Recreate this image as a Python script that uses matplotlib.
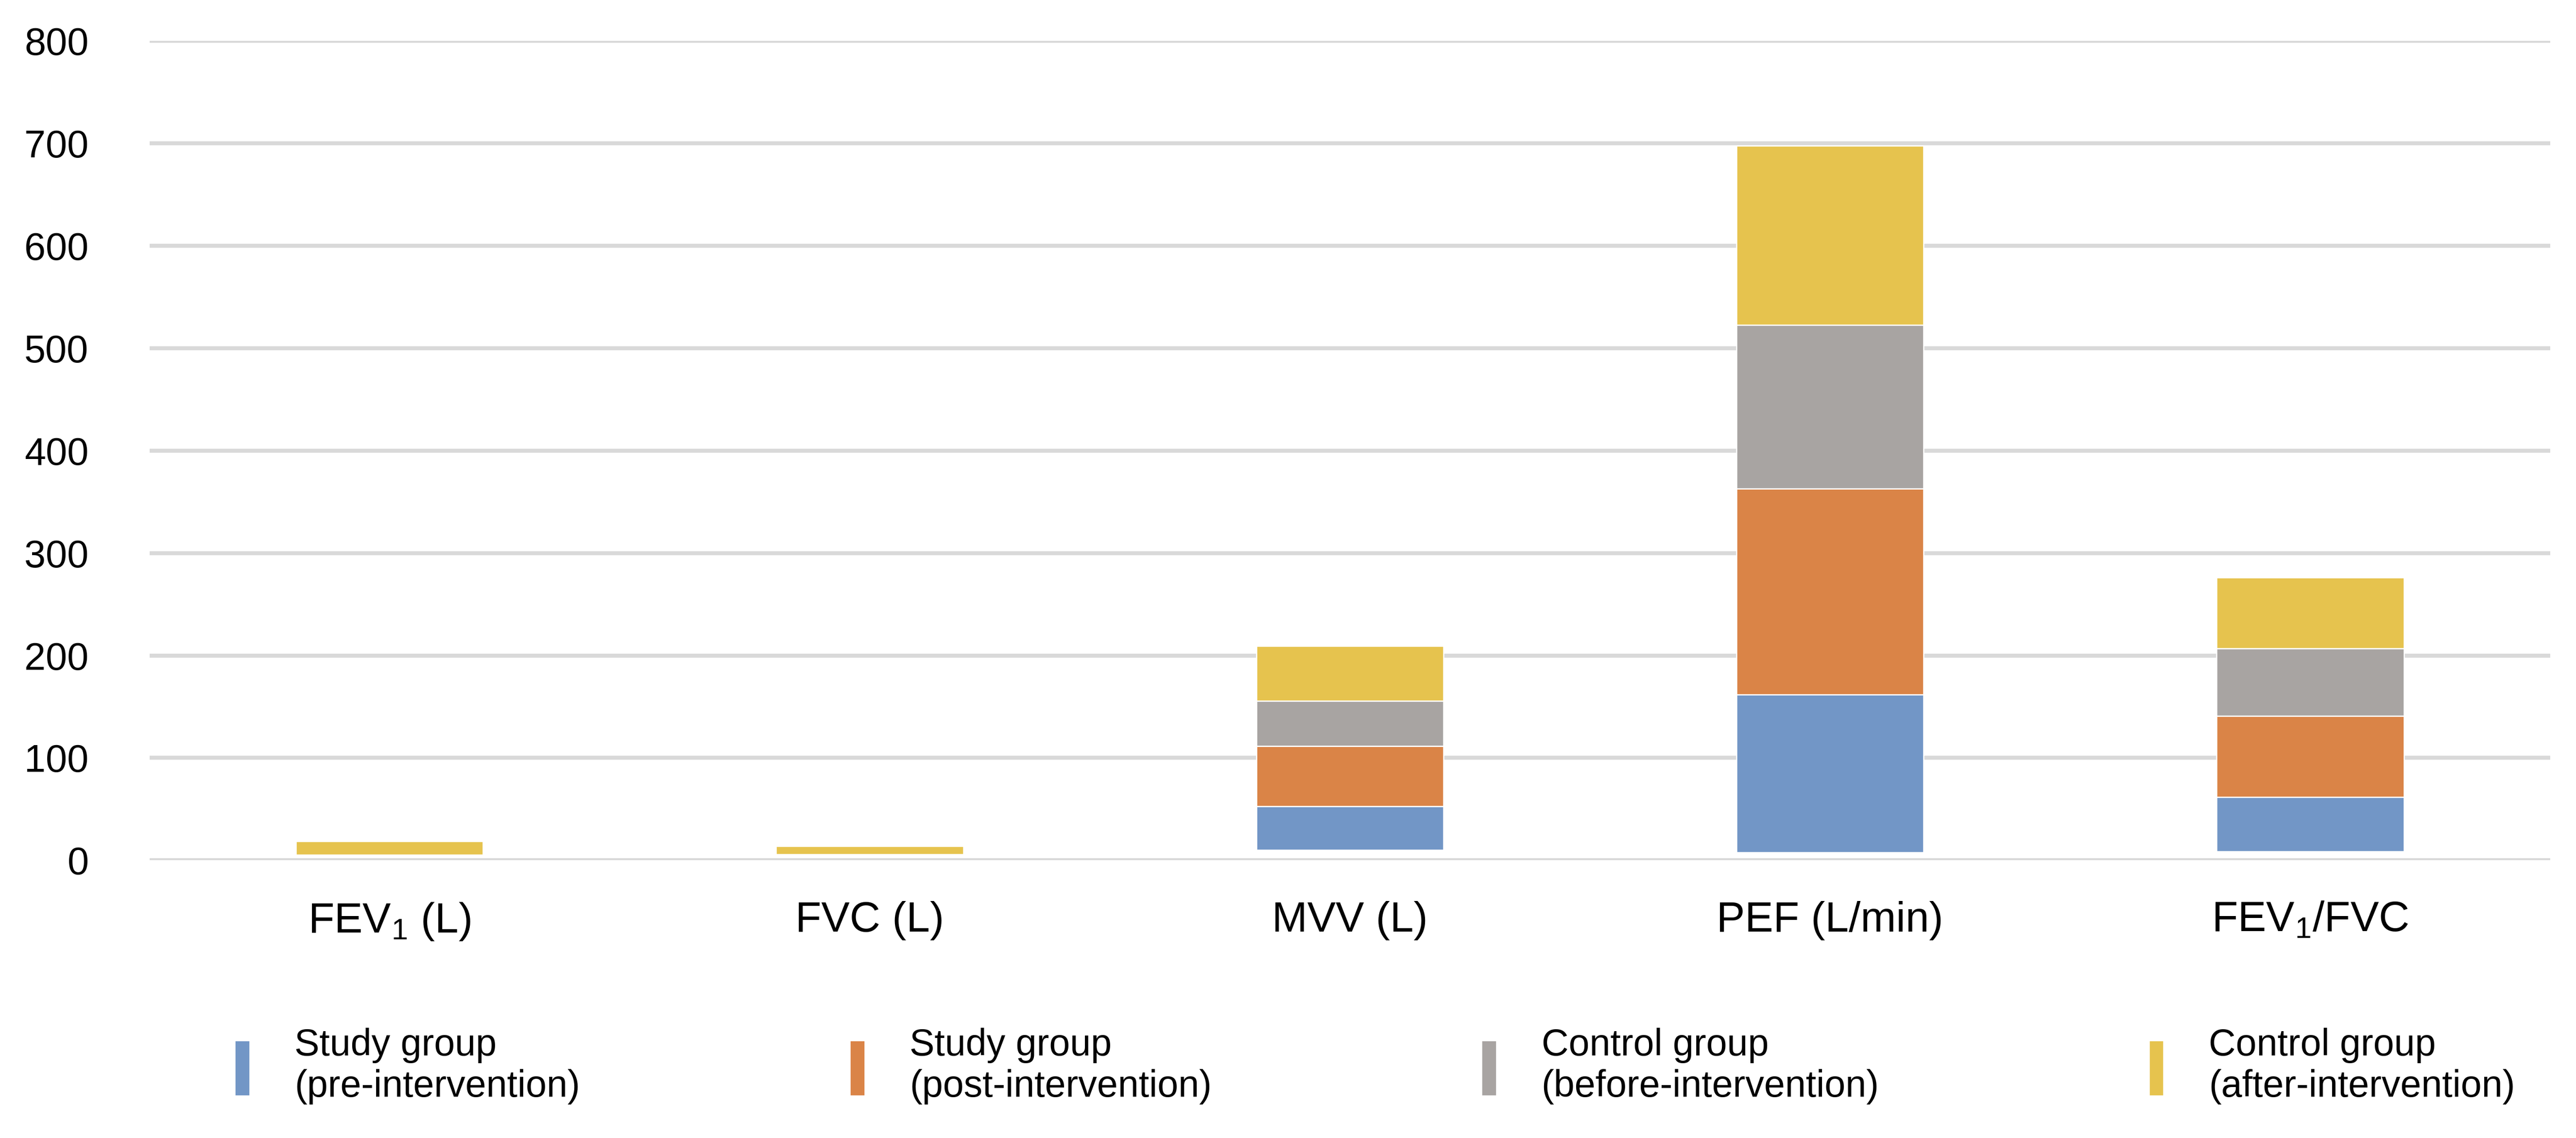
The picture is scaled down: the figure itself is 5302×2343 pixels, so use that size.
import matplotlib.pyplot as plt
import numpy as np

plt.rcParams['font.family'] = ['Liberation Sans', 'DejaVu Sans']
plt.rcParams['mathtext.fontset'] = 'custom'
plt.rcParams['mathtext.rm'] = 'Liberation Sans'

categories = ['FEV$_1$ (L)', 'FVC (L)', 'MVV (L)', 'PEF (L/min)', 'FEV$_1$/FVC']
base = [5.3, 6, 10, 7.7, 8.5]   # hidden offset series
study_pre = [0, 0, 42.6, 154, 53.5]
study_post = [0, 0, 59, 201, 79]
control_before = [0, 0, 44, 160, 66]
control_after = [13.2, 7.8, 53.5, 175, 69]

labels = ['Study group\n(pre-intervention)', 'Study group\n(post-intervention)',
          'Control group\n(before-intervention)', 'Control group\n(after-intervention)']
colors = ['#7296c6', '#da8447', '#a8a4a2', '#e6c34e']

fig = plt.figure(figsize=(5302/300, 2343/300), dpi=300)
ax = fig.add_axes([0.058, 0.244, 0.932, 0.72])
x = np.arange(len(categories))
bottom = np.array(base, dtype=float)
for vals, lab, c in zip([study_pre, study_post, control_before, control_after], labels, colors):
    ax.bar(x, vals, 0.39, bottom=bottom, color=c, label=lab, edgecolor='white', linewidth=0.6, zorder=3)
    bottom += vals

ax.set_ylim(0, 800)
ax.set_xlim(-0.5, 4.5)
ax.set_yticks(range(0, 801, 100))
ax.yaxis.grid(True, color='#d9d9d9', linewidth=2)
ax.set_axisbelow(True)
for s in ax.spines.values():
    s.set_visible(False)
ax.tick_params(axis='both', length=0, labelsize=19)
ax.tick_params(axis='y', pad=30)
ax.set_xticks(x)
ax.set_xticklabels(categories, fontsize=21)
ax.tick_params(axis='x', pad=20)

fig.legend(loc='lower left', bbox_to_anchor=(0.078, 0.0), ncol=4, frameon=False,
           fontsize=18.5, handlelength=0.4, handleheight=1.9, columnspacing=7.2, handletextpad=1.2)
fig.savefig('out.png', dpi=300)
